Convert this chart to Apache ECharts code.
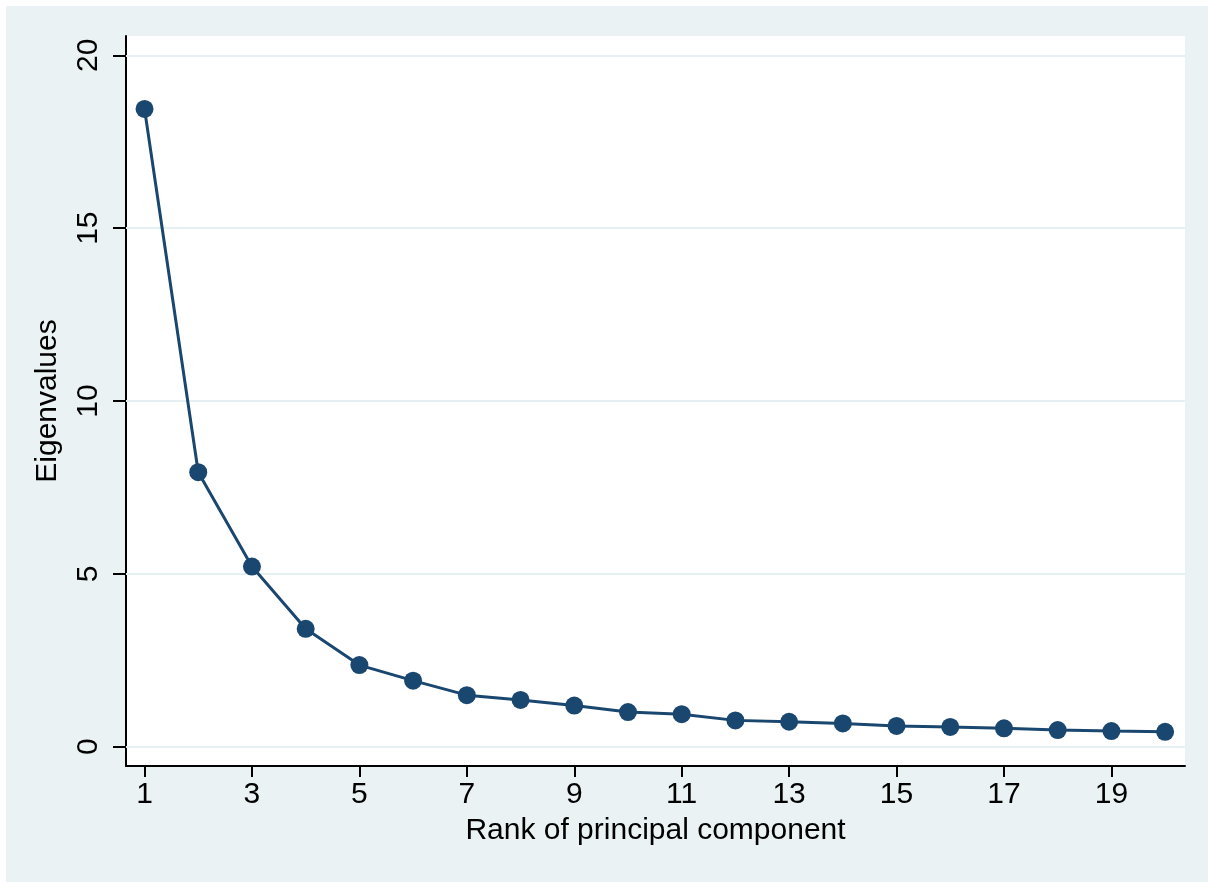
<!DOCTYPE html>
<html>
<head>
<meta charset="utf-8">
<script src="https://cdn.jsdelivr.net/npm/echarts@6/dist/echarts.min.js"></script>
<style>
html,body{margin:0;padding:0;background:#fff;}
#chart{width:1208px;height:882px;}
</style>
</head>
<body>
<div id="chart"></div>
<script>
const ranks = [1,2,3,4,5,6,7,8,9,10,11,12,13,14,15,16,17,18,19,20];
const eigenvalues = [18.45,7.94,5.21,3.41,2.36,1.91,1.49,1.35,1.19,1.00,0.94,0.76,0.72,0.67,0.60,0.57,0.53,0.48,0.45,0.43];
const xTicks = [1,3,5,7,9,11,13,15,17,19];
const yTicks = [0,5,10,15,20];
const xTitle = 'Rank of principal component';
const yTitle = 'Eigenvalues';

const chart = echarts.init(document.getElementById('chart'), null, {renderer:'canvas'});
const font = 'Liberation Sans, Arial, Helvetica, sans-serif';
const navy = '#1a476f';
chart.setOption({
  backgroundColor: '#ffffff',
  animation: false,
  graphic: [{
    type: 'rect', z: -10, silent: true,
    shape: {x: 6, y: 6, width: 1202, height: 876},
    style: {fill: '#eaf2f3'}
  }],
  grid: {left: 126, top: 36, width: 1059, height: 730, backgroundColor: '#ffffff', show: true, borderWidth: 0},
  xAxis: {
    type: 'value', min: 0.655, max: 20.37,
    name: xTitle, nameLocation: 'middle', nameGap: 50,
    nameTextStyle: {fontFamily: font, fontSize: 30, color: '#000'},
    axisLine: {show: true, onZero: false, lineStyle: {color: '#000', width: 2}},
    axisTick: {show: true, length: 11, lineStyle: {color: '#000', width: 2},
      customValues: xTicks},
    axisLabel: {fontFamily: font, fontSize: 30, color: '#000', margin: 14,
      customValues: xTicks, formatter: v => String(v)},
    splitLine: {show: false}
  },
  yAxis: {
    type: 'value', min: -0.56, max: 20.56,
    name: yTitle, nameLocation: 'middle', nameGap: 63, nameRotate: 90,
    nameTextStyle: {fontFamily: font, fontSize: 30, color: '#000'},
    axisLine: {show: true, onZero: false, lineStyle: {color: '#000', width: 2}},
    axisTick: {show: true, length: 13, lineStyle: {color: '#000', width: 2},
      customValues: yTicks},
    axisLabel: {fontFamily: font, fontSize: 30, color: '#000', margin: 22, rotate: 90,
      customValues: yTicks, formatter: v => String(v)},
    splitLine: {show: false}
  },
  series: [
    {
      type: 'line', silent: true,
      data: ranks.map((r, i) => [r, eigenvalues[i]]),
      symbol: 'circle', symbolSize: 18,
      lineStyle: {color: navy, width: 3},
      itemStyle: {color: navy},
      markLine: {
        silent: true, symbol: 'none', label: {show: false}, z: 1,
        lineStyle: {color: '#e6eff1', width: 2, type: 'solid'},
        data: yTicks.map(v => ({yAxis: v}))
      },
      z: 3
    }
  ]
});
</script>
</body>
</html>
